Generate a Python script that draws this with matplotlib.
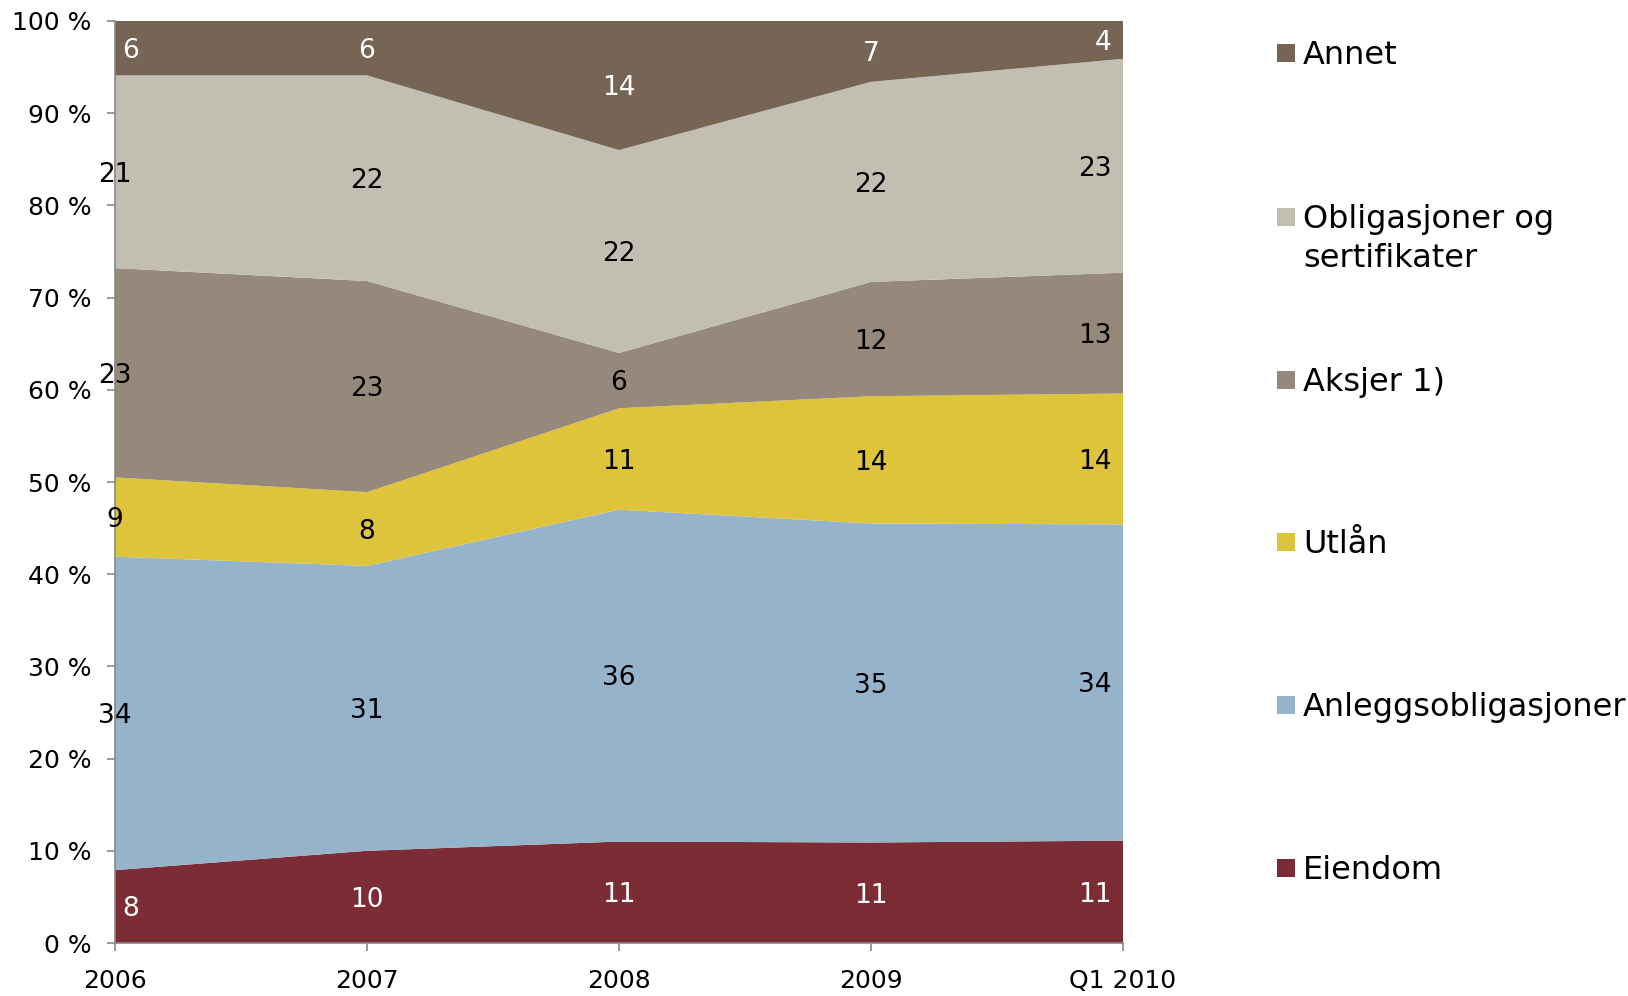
import matplotlib
matplotlib.use("Agg")
import matplotlib.pyplot as plt
from matplotlib.patches import Rectangle
import numpy as np

# shares in percent (bottom to top)
periods = ["2006", "2007", "2008", "2009", "Q1 2010"]
eiendom = [7.9, 10.0, 11.0, 10.9, 11.1]
anlegg = [34.0, 30.9, 36.0, 34.6, 34.3]
utlan = [8.6, 8.0, 11.0, 13.8, 14.2]
aksjer = [22.7, 22.9, 6.0, 12.4, 13.1]
obligasjoner = [20.9, 22.3, 22.0, 21.7, 23.2]
annet = [5.9, 5.9, 14.0, 6.6, 4.1]

series_names = ["Eiendom", "Anleggsobligasjoner", "Utlån", "Aksjer 1)",
                "Obligasjoner og\nsertifikater", "Annet"]
series_values = [eiendom, anlegg, utlan, aksjer, obligasjoner, annet]
colors = ["#7b2c35", "#96b3cc", "#ddc43a", "#96897b", "#c2bfb2", "#766555"]
label_colors = ["white", "black", "black", "black", "black", "white"]

plt.rcParams["font.family"] = ["DejaVu Sans"]

fig = plt.figure(figsize=(16.28, 9.96), dpi=100)
ax = fig.add_axes([115 / 1628, 1 - 943 / 996, 1008 / 1628, 922 / 996])

x = np.arange(len(periods))
data = np.array(series_values)
ax.stackplot(x, data, colors=colors, linewidth=0)

# data labels in the middle of each band
bottoms = np.vstack([np.zeros(len(x)), np.cumsum(data, axis=0)[:-1]])
for i, vals in enumerate(data):
    for j, v in enumerate(vals):
        y_mid = bottoms[i, j] + v / 2
        ha, dx = "center", 0
        if j == len(x) - 1:
            ha, dx = "right", -8
        elif j == 0 and label_colors[i] == "white":
            ha, dx = "left", 5
        ax.annotate(f"{v:.0f}", (x[j], y_mid), xytext=(dx, -2),
                    textcoords="offset points", ha=ha, va="center",
                    fontsize=19, color=label_colors[i])

ax.set_xlim(x[0], x[-1])
ax.set_ylim(0, 100)
ax.set_xticks(x)
ax.set_xticklabels(periods)
ax.set_yticks(np.arange(0, 101, 10))
ax.set_yticklabels([f"{t} %" for t in range(0, 101, 10)])
ax.tick_params(axis="both", direction="out", length=6, width=1.2,
               color="#888888", labelsize=18)
ax.tick_params(axis="y", pad=11)
ax.tick_params(axis="x", pad=13)
for side in ["top", "right"]:
    ax.spines[side].set_visible(False)
for side in ["left", "bottom"]:
    ax.spines[side].set_color("#888888")
    ax.spines[side].set_linewidth(1.2)

# legend drawn by hand on the right, top to bottom
legend_y = [53, 217, 380, 542, 705, 868]
for name, col, ypx in zip(series_names[::-1], colors[::-1], legend_y):
    yf = 1 - ypx / 996
    fig.add_artist(Rectangle((1277 / 1628, yf - 9 / 996), 18 / 1628, 18 / 996,
                             transform=fig.transFigure, facecolor=col,
                             edgecolor="none"))
    fig.text(1303 / 1628, yf + 13 / 996, name, fontsize=23, va="top",
             ha="left", linespacing=1.32)

fig.savefig("out.png", dpi=100)
